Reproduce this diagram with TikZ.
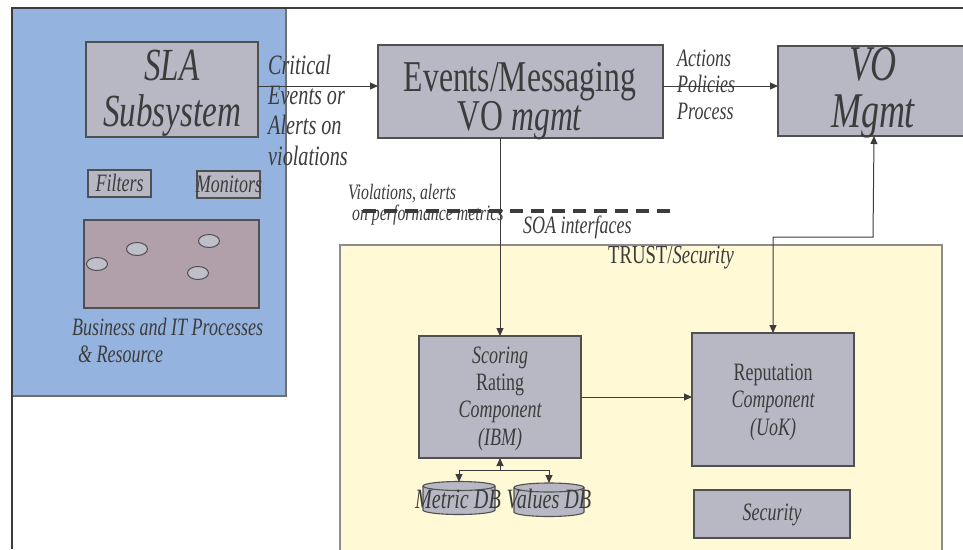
\documentclass[tikz,border=0pt]{standalone}
\usepackage{fontspec}
\setmainfont{Liberation Serif}[FakeStretch=0.72]
\usetikzlibrary{arrows.meta,shapes.geometric}

\definecolor{slablue}{HTML}{95B3DF}
\definecolor{boxgray}{HTML}{B8B8C4}
\definecolor{procpink}{HTML}{B19FAA}
\definecolor{trustyellow}{HTML}{FFF9D6}
\definecolor{ink}{HTML}{3C3C3C}
\definecolor{edge}{HTML}{505050}
\definecolor{regionedge}{HTML}{707070}

\newcommand{\fs}[2]{\fontsize{#1}{#2}\selectfont}

\begin{document}
\begin{tikzpicture}[x=1pt,y=-1pt,
  box/.style={draw=edge, line width=1.2pt, fill=boxgray, inner sep=0pt, outer sep=0pt, anchor=north west},
  blob/.style={draw=edge, line width=1pt, fill=boxgray!90!white, ellipse, inner sep=0pt},
  % multi-line texts are placed by the baseline of their last line
  txt/.style={text=ink, inner sep=0pt, anchor=base, align=center},
  ltxt/.style={text=ink, inner sep=0pt, anchor=base west, align=left},
  conn/.style={draw=ink, line width=1pt},
  tip/.style={-{Triangle[length=8pt,width=7pt]}},
  dbpart/.style={draw=edge, line width=1.1pt, fill=boxgray},
]
\useasboundingbox (0,0) rectangle (963,549);

% backdrop regions
\fill[slablue] (13,9) rectangle (286,396);
\draw[regionedge, line width=1.5pt] (286,9) -- (286,396) -- (13,396);
\filldraw[fill=trustyellow, draw=regionedge!80!white, line width=1.5pt] (340,245) rectangle (942,560);

% outer frame
\draw[ink, line width=2.4pt] (12,549) -- (12,8) -- (963,8);

% SLA side
\node[box, minimum width=172pt, minimum height=95pt] (sla) at (86,42) {};
\node[box, minimum width=63pt, minimum height=27pt] (filters) at (88,170) {};
\node[box, minimum width=63pt, minimum height=27pt] (monitors) at (197,171) {};
\node[box, fill=procpink, minimum width=175pt, minimum height=88pt] (proc) at (84,220) {};
\node[blob, minimum width=21pt, minimum height=13pt] (r1) at (97,264) {};
\node[blob, minimum width=21pt, minimum height=13pt] (r2) at (137,249) {};
\node[blob, minimum width=21pt, minimum height=13pt] (r3) at (209,241) {};
\node[blob, minimum width=21pt, minimum height=13pt] (r4) at (198,273) {};

% top row
\node[box, minimum width=285pt, minimum height=93pt] (events) at (378,45) {};
\node[box, minimum width=192pt, minimum height=90pt] (vo) at (778,46) {};

% trust side
\node[box, minimum width=162pt, minimum height=122pt] (scoring) at (419,336) {};
\node[box, minimum width=162pt, minimum height=133pt] (rep) at (692,333) {};
\node[box, minimum width=156pt, minimum height=48pt] (security) at (694,490) {};

% database cylinders
\fill[boxgray] (423,486) rectangle (495,510);
\draw[dbpart] (423,486) -- (423,510) arc[start angle=180, end angle=360, x radius=36pt, y radius=4.5pt] -- (495,486);
\draw[dbpart] (459,486) ellipse[x radius=36pt, y radius=4.5pt];
\fill[boxgray] (514,487.5) rectangle (584,512);
\draw[dbpart] (514,487.5) -- (514,512) arc[start angle=180, end angle=360, x radius=35pt, y radius=4.5pt] -- (584,487.5);
\draw[dbpart] (549,487.5) ellipse[x radius=35pt, y radius=4.5pt];
\coordinate (metric) at (459,482);
\coordinate (values) at (549,483);

% texts
\node[txt, font=\fs{46}{46}\itshape] (slat) at (172,126) {SLA\\Subsystem};
\node[txt, font=\fs{25}{25}\itshape] (filterst) at (119.5,191) {Filters};
\node[txt, font=\fs{25}{25}\itshape] (monitorst) at (229,192) {Monitors};
\node[ltxt, font=\fs{25}{27}\itshape] (proct) at (72,362) {Business and IT Processes\\\hspace*{6pt}\& Resource};
\node[ltxt, font=\fs{28}{30.3}\itshape] (critt) at (268,165) {Critical\\Events or\\Alerts on\\violations};
\node[txt, font=\fs{44}{39}] (eventst) at (520,130) {Events/Messaging\\VO \textit{mgmt}};
\node[ltxt, font=\fs{25}{26.5}\itshape] (actt) at (677,119) {Actions\\Policies\\Process};
\node[txt, font=\fs{50}{47}\itshape] (vot) at (873,127) {VO\\Mgmt};
\node[ltxt, font=\fs{22}{21}\itshape] (violt) at (348,220) {Violations, alerts\\\hspace*{4pt}on performance metrics};
\node[ltxt, font=\fs{25}{25}\itshape] (soat) at (523,233) {SOA interfaces};
\node[txt, font=\fs{26}{26}] (trustt) at (671,263) {TRUST/\textit{Security}};
\node[txt, font=\fs{25}{27.3}\itshape] (scoringt) at (500,445) {Scoring\\\upshape Rating\\Component\\(IBM)};
\node[txt, font=\fs{25}{27.5}\itshape] (rept) at (773,435) {\upshape Reputation\\Component\\(UoK)};
\node[txt, font=\fs{25}{25}\itshape] (securityt) at (772,520) {Security};
\node[txt, font=\fs{28}{28}\itshape] (metrict) at (458,508) {Metric DB};
\node[txt, font=\fs{28}{28}\itshape] (valuest) at (549,508) {Values DB};

% connectors
\coordinate (row) at (0,86);
\draw[conn, tip] (sla.east |- row) -- (events.west |- row);
\draw[conn, tip] (events.east |- row) -- (vo.west |- row);
\draw[conn, tip] (events.south -| scoring.north) -- (scoring.north);
\draw[conn, tip] (scoring.east) -- (scoring.east -| rep.west);
\coordinate (elbow) at (873,237);
\draw[conn, {Triangle[length=8pt,width=7pt]}-{Triangle[length=8pt,width=7pt]}] (rep.north) |- (elbow) -- (vo.south);
\coordinate (bus) at (500,470);
\draw[conn, tip] (bus) -- (scoring.south);
\draw[conn, tip] (bus) -| (metric);
\draw[conn, tip] (bus) -| (values);

% SOA boundary
\draw[ink, line width=4pt, dash pattern=on 13pt off 8pt] (363,211) -- (670,211);
\end{tikzpicture}
\end{document}
